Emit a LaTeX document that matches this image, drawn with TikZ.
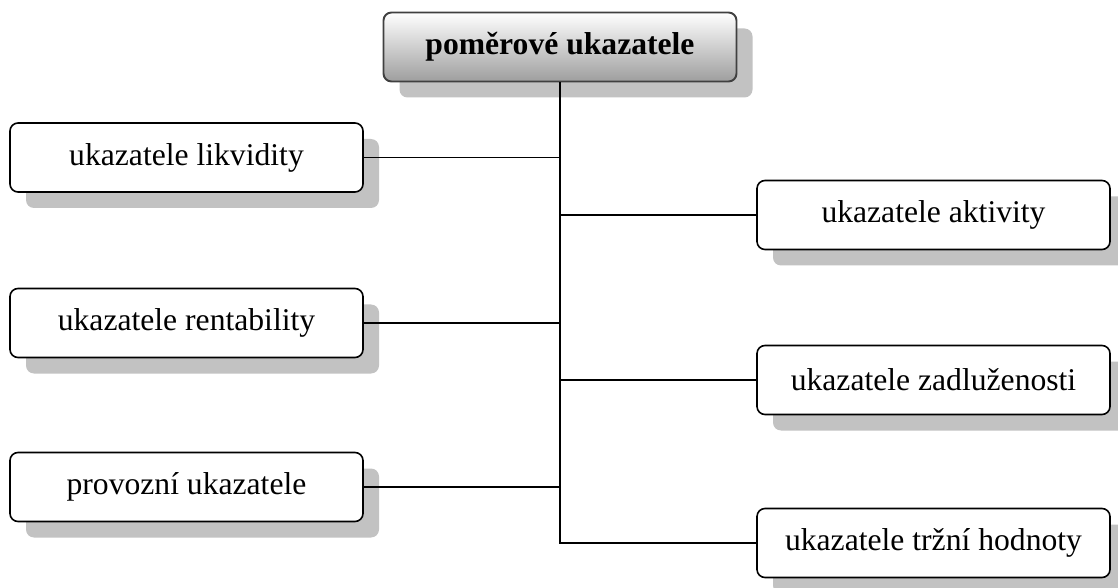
\documentclass[tikz,border=0pt]{standalone}
\usepackage{fontspec}
\setmainfont{Liberation Serif}
\usepackage{tikz}
\usetikzlibrary{shadows}
\tikzset{
	ukbox/.style={draw=black, line width=0.9pt, fill=white, rounded corners=0.16cm,
		minimum width=7.06cm, minimum height=1.38cm, inner sep=0pt,
		font=\fontsize{18}{22}\selectfont,
		drop shadow={shadow xshift=0.32cm, shadow yshift=-0.32cm, fill=black!24, opacity=1}},
	ukhead/.style={ukbox, draw=black!75, line width=1.1pt, top color=white, bottom color=black!38,
		font=\fontsize{18}{22}\selectfont\bfseries},
	ukline/.style={line width=1.1pt, black}
}

\begin{document}
\begin{tikzpicture}
	\useasboundingbox (0,0) rectangle (22.36,11.74);
	\node[ukhead] (top) at (11.2,10.8) {poměrové ukazatele};
	% left
	\node[ukbox] (likv) at (3.73,8.59) {ukazatele likvidity};
	\node[ukbox] (rent) at (3.73,5.28) {ukazatele rentability};
	\node[ukbox] (prov) at (3.73,2.0) {provozní ukazatele};
	% right
	\node[ukbox] (akt) at (18.67,7.44) {ukazatele aktivity};
	\node[ukbox] (zadl) at (18.67,4.14) {ukazatele zadluženosti};
	\node[ukbox] (trzni) at (18.67,0.88) {ukazatele tržní hodnoty};

	\draw[ukline] (top.south) |- (trzni.west);
	\draw[ukline] (likv.east) -- (likv.east -| top.south);
	\draw[ukline] (rent.east) -- (rent.east -| top.south);
	\draw[ukline] (prov.east) -- (prov.east -| top.south);
	\draw[ukline] (akt.west) -- (akt.west -| top.south);
	\draw[ukline] (zadl.west) -- (zadl.west -| top.south);
\end{tikzpicture}
\end{document}
